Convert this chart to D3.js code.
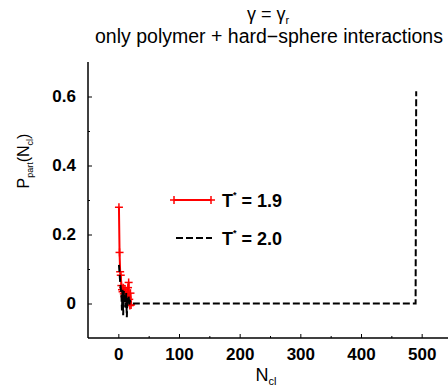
<!DOCTYPE html>
<html>
<head>
<meta charset="utf-8">
<script src="https://cdn.jsdelivr.net/npm/d3@7"></script>
<style>
  html, body { margin: 0; padding: 0; background: #fff; }
  svg { display: block; font-family: "Liberation Sans", Arial, Helvetica, sans-serif; }
</style>
</head>
<body>
<svg id="chart" width="448" height="387"></svg>
<script>
// Cluster-size distribution for two temperatures
const seriesNames = ["1.9", "2.0"];

// T* = 1.9 : cluster size and probability
const n19 = [1, 2, 3, 4, 5, 6, 7, 8, 9, 10, 11, 12, 13, 14, 15, 16, 17, 18, 19, 20, 21];
const p19 = [0.279, 0.148, 0.092, 0.082, 0.052, 0.040, 0.034, 0.046, 0.028, 0.020, 0.042, 0.024, 0.010, 0.032, 0.018, 0.046, 0.061, 0.012, -0.006, 0.030, -0.004];

// T* = 2.0 : cluster size and probability
const n20 = [1, 2, 3, 4, 5, 6, 7, 8, 9, 10, 11, 12, 13, 14, 15, 16, 17, 18, 19, 20, 22, 25, 100, 200, 300, 400, 490, 491];
const p20 = [0.112, 0.090, 0.062, 0.045, 0.030, -0.020, 0.040, -0.034, 0.036, 0.008, 0.022, -0.012, 0.030, -0.040, 0.016, 0.004, 0.020, -0.006, 0.010, 0.002, 0.0, 0.0, 0.0, 0.0, 0.0, 0.0, 0.0, 0.615];

const xTicks = [0, 100, 200, 300, 400, 500];
const xMinor = [50, 150, 250, 350, 450];
const yTicks = [0, 0.2, 0.4, 0.6];
const yMinor = [0.1, 0.3, 0.5];

const svg = d3.select("#chart");

const x = d3.scaleLinear().domain([-50, 550]).range([88, 452]);
const y = d3.scaleLinear().domain([-0.1, 0.7]).range([338, 62]);

// axis lines (left and bottom only)
svg.append("line").attr("x1", 88).attr("x2", 88).attr("y1", y(0.7)).attr("y2", y(-0.1))
  .attr("stroke", "#000").attr("stroke-width", 1.5);
svg.append("line").attr("x1", 88).attr("x2", 448).attr("y1", y(-0.1)).attr("y2", y(-0.1))
  .attr("stroke", "#000").attr("stroke-width", 1.5);

const tickFont = 17;

// x ticks, pointing into the plot
const xAxisG = svg.append("g").attr("transform", `translate(0,${y(-0.1)})`);
xAxisG.call(d3.axisBottom(x).tickValues(xTicks).tickSize(-4).tickPadding(10).tickFormat(d3.format("d")));
xAxisG.select(".domain").remove();
xAxisG.selectAll("text").attr("font-size", tickFont).attr("font-weight", "bold")
  .attr("font-family", "Liberation Sans, Arial, sans-serif").attr("fill", "#000");
const xMinorG = svg.append("g").attr("transform", `translate(0,${y(-0.1)})`);
xMinorG.call(d3.axisBottom(x).tickValues(xMinor).tickSize(-2).tickFormat(""));
xMinorG.select(".domain").remove();

// y ticks, pointing into the plot
const yAxisG = svg.append("g").attr("transform", "translate(88,0)");
yAxisG.call(d3.axisLeft(y).tickValues(yTicks).tickSize(-4).tickPadding(12)
  .tickFormat(d => d === 0 ? "0" : d3.format(".1f")(d)));
yAxisG.select(".domain").remove();
yAxisG.selectAll("text").attr("font-size", tickFont).attr("font-weight", "bold")
  .attr("font-family", "Liberation Sans, Arial, sans-serif").attr("fill", "#000");
const yMinorG = svg.append("g").attr("transform", "translate(88,0)");
yMinorG.call(d3.axisLeft(y).tickValues(yMinor).tickSize(-2).tickFormat(""));
yMinorG.select(".domain").remove();

// data series
const line = d3.line().x(d => x(d[0])).y(d => y(d[1]));
const d19 = n19.map((n, i) => [n, p19[i]]);
const d20 = n20.map((n, i) => [n, p20[i]]);

const crossSize = 4;
function cross(g, cx, cy, color) {
  g.append("line").attr("x1", cx - crossSize).attr("x2", cx + crossSize).attr("y1", cy).attr("y2", cy)
    .attr("stroke", color).attr("stroke-width", 1.5);
  g.append("line").attr("x1", cx).attr("x2", cx).attr("y1", cy - crossSize).attr("y2", cy + crossSize)
    .attr("stroke", color).attr("stroke-width", 1.5);
}

const plot = svg.append("g");
plot.append("path").datum(d19).attr("d", line).attr("fill", "none")
  .attr("stroke", "#ff0000").attr("stroke-width", 2);
const crossG = plot.append("g");
d19.forEach(d => cross(crossG, x(d[0]), y(d[1]), "#ff0000"));

plot.append("path").datum(d20).attr("d", line).attr("fill", "none")
  .attr("stroke", "#000").attr("stroke-width", 2).attr("stroke-dasharray", "7,3");

// legend
const leg = svg.append("g");
leg.append("line").attr("x1", 174).attr("x2", 211).attr("y1", 200).attr("y2", 200)
  .attr("stroke", "#ff0000").attr("stroke-width", 2);
cross(leg, 174, 200, "#ff0000");
cross(leg, 211, 200, "#ff0000");
leg.append("line").attr("x1", 176).attr("x2", 212).attr("y1", 238).attr("y2", 238)
  .attr("stroke", "#000").attr("stroke-width", 2).attr("stroke-dasharray", "7,3");

function tLabel(yPos, value) {
  const t = leg.append("text").attr("x", 222).attr("y", yPos).attr("font-size", 18)
    .attr("font-weight", "bold").attr("fill", "#000");
  t.append("tspan").text("T");
  t.append("tspan").attr("font-size", 9).attr("dy", -9).text("*");
  t.append("tspan").attr("dy", 9).text(" = " + value);
}
tLabel(206.5, seriesNames[0]);
tLabel(244.5, seriesNames[1]);

// titles
const title = svg.append("text").attr("x", 268).attr("y", 20).attr("text-anchor", "middle")
  .attr("font-size", 18).attr("fill", "#000");
title.append("tspan").text("γ = γ");
title.append("tspan").attr("font-size", 11).attr("dy", 4).text("r");
svg.append("text").attr("x", 269).attr("y", 43).attr("text-anchor", "middle")
  .attr("font-size", 19.5).attr("fill", "#000").text("only polymer + hard\u2212sphere interactions");

// x label
const xl = svg.append("text").attr("x", 266).attr("y", 381).attr("text-anchor", "middle")
  .attr("font-size", 18).attr("fill", "#000");
xl.append("tspan").text("N");
xl.append("tspan").attr("font-size", 11).attr("dy", 4).text("cl");

// y label
const yl = svg.append("text").attr("transform", "translate(29,161) rotate(-90)")
  .attr("text-anchor", "middle").attr("font-size", 16).attr("fill", "#000");
yl.append("tspan").text("P");
yl.append("tspan").attr("font-size", 9).attr("dy", 4).text("part");
yl.append("tspan").attr("dy", -4).text("(N");
yl.append("tspan").attr("font-size", 9).attr("dy", 4).text("cl");
yl.append("tspan").attr("dy", -4).text(")");
</script>
</body>
</html>
